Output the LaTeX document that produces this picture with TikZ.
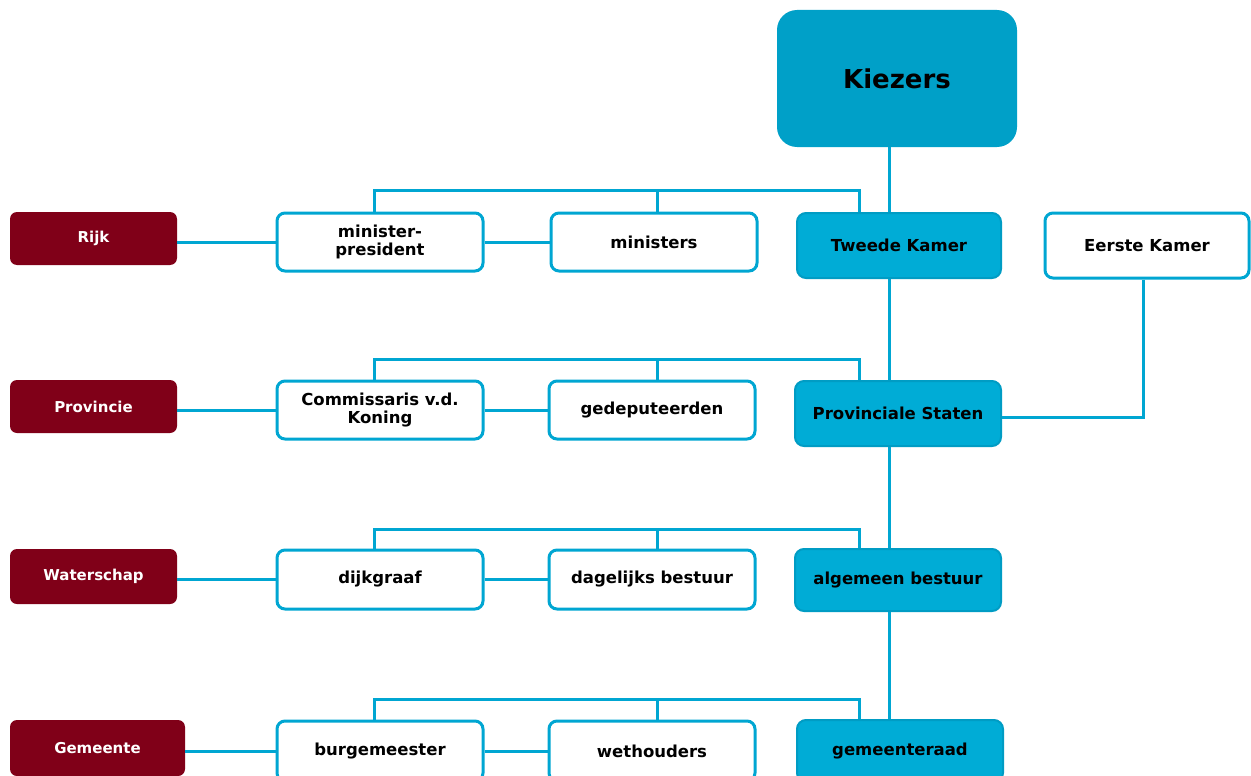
\documentclass[tikz,border=0pt]{standalone}
\usepackage{fontspec}
\setmainfont{DejaVu Sans}
\definecolor{lineblue}{HTML}{00A6D2}
\definecolor{boxblue}{HTML}{00ACD6}
\definecolor{boxedge}{HTML}{009CC4}
\definecolor{kiezblue}{HTML}{00A0C8}
\definecolor{darkred}{HTML}{800018}
\begin{document}
\begin{tikzpicture}[x=1pt,y=-1pt,
  conn/.style={draw=lineblue,line width=3pt},
  whitebox/.style={draw=lineblue,line width=3pt,fill=white,rounded corners=8pt,
    minimum width=206pt,minimum height=58pt,inner sep=0pt,align=center,
    font=\fontsize{16.5}{18}\selectfont\bfseries},
  bluebox/.style={draw=boxedge,line width=2pt,fill=boxblue,rounded corners=9pt,
    minimum width=206pt,minimum height=65pt,inner sep=0pt,align=center,
    font=\fontsize{16.5}{18}\selectfont\bfseries},
  redbox/.style={fill=darkred,rounded corners=7pt,text=white,
    minimum width=167pt,minimum height=53pt,inner sep=0pt,align=center,
    font=\fontsize{15}{17}\selectfont\bfseries}]
\clip (0,0) rectangle (1251,776);
\fill[white] (0,0) rectangle (1251,776);

% nodes
\node[fill=kiezblue,rounded corners=20pt,minimum width=240pt,minimum height=137pt,
  inner sep=0pt,font=\fontsize{26}{30}\selectfont\bfseries] (kiezers) at (897,78.5) {Kiezers};

\node[redbox] (rijk) at (93.5,238.5) {Rijk};
\node[whitebox] (mp) at (380,242) {minister-\\president};
\node[whitebox] (min) at (654,242) {\raisebox{-1pt}{ministers}};
\node[bluebox,minimum width=204pt] (tk) at (899,245.5) {Tweede Kamer};
\node[whitebox,minimum width=204pt,minimum height=65pt] (ek) at (1147,245.5) {Eerste Kamer};

\node[redbox] (prov) at (93.5,406.5) {Provincie};
\node[whitebox] (cvk) at (380,410) {Commissaris v.d.\\Koning};
\node[whitebox] (ged) at (652,410) {gedeputeerden};
\node[bluebox] (ps) at (898,413.5) {Provinciale Staten};

\node[redbox,minimum height=55pt] (water) at (93.5,576.5) {Waterschap};
\node[whitebox,minimum height=59pt] (dijk) at (380,579.5) {dijkgraaf};
\node[whitebox,minimum height=59pt] (dag) at (652,579.5) {dagelijks bestuur};
\node[bluebox,minimum height=62pt] (ab) at (898,580) {algemeen bestuur};

\node[redbox,minimum width=175pt,minimum height=56pt] (gem) at (97.5,748) {Gemeente};
\node[whitebox,minimum height=60pt] (burg) at (380,751) {burgemeester};
\node[whitebox,minimum height=60pt] (weth) at (652,751) {wethouders};
\node[bluebox,minimum height=62pt] (gr) at (900,751) {gemeenteraad};

% connectors row 1
\draw[conn] ([xshift=-6pt]mp.north) -- ++(0,-21) -| ([xshift=-40pt]tk.north);
\draw[conn] ([xshift=3pt]min.north) -- ++(0,-21);
\draw[conn] ([xshift=-10pt]tk.north) -- ([xshift=-10pt]tk.north |- kiezers.south);
\draw[conn] (mp.west) -- (mp.west -| rijk.east);
\draw[conn] (mp.east) -- (min.west);
% row 1 -> row 2
\draw[conn] ([xshift=-10pt]tk.south) -- ([xshift=-10pt]tk.south |- ps.north);
\draw[conn] ([xshift=-4pt]ek.south) |- ([yshift=-4pt]ps.east);
% row 2
\draw[conn] ([xshift=-6pt]cvk.north) -- ++(0,-20) -| ([xshift=-39pt]ps.north);
\draw[conn] ([xshift=5pt]ged.north) -- ++(0,-20);
\draw[conn] (cvk.west) -- (cvk.west -| prov.east);
\draw[conn] (cvk.east) -- (ged.west);
% row 2 -> row 3
\draw[conn] ([xshift=-9pt]ps.south) -- ([xshift=-9pt]ps.south |- ab.north);
% row 3
\draw[conn] ([xshift=-6pt]dijk.north) -- ++(0,-19) -| ([xshift=-39pt]ab.north);
\draw[conn] ([xshift=5pt]dag.north) -- ++(0,-19);
\draw[conn] (dijk.west) -- (dijk.west -| water.east);
\draw[conn] (dijk.east) -- (dag.west);
% row 3 -> row 4
\draw[conn] ([xshift=-9pt]ab.south) -- ([xshift=-9pt]ab.south |- gr.north);
% row 4
\draw[conn] ([xshift=-6pt]burg.north) -- ++(0,-20) -| ([xshift=-41pt]gr.north);
\draw[conn] ([xshift=5pt]weth.north) -- ++(0,-20);
\draw[conn] (burg.west) -- (burg.west -| gem.east);
\draw[conn] (burg.east) -- (weth.west);
\end{tikzpicture}
\end{document}
